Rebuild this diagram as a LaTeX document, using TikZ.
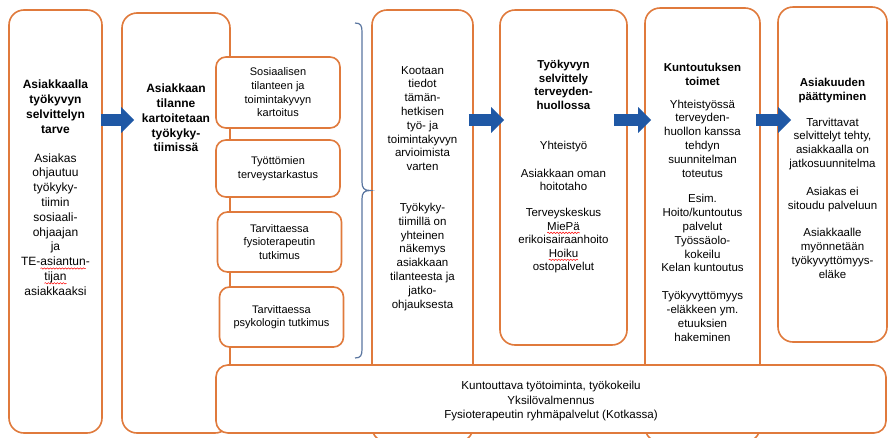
\documentclass[tikz,border=0pt]{standalone}
\usepackage{fontspec}
\setmainfont{Liberation Sans}
\usetikzlibrary{arrows.meta,calc,decorations.pathmorphing}
\definecolor{orj}{HTML}{E07A3C}
\definecolor{arrowblue}{HTML}{1F58A5}
\definecolor{bracegray}{HTML}{5A76A0}
\newsavebox\splbox
\newcommand\spl[1]{\sbox\splbox{#1}\rlap{\tikz[overlay]\draw[red,line width=0.5pt,decorate,decoration={snake,amplitude=0.7pt,segment length=3pt}] (0pt,-2.8pt) -- (\wd\splbox,-2.8pt);}\usebox\splbox}

\begin{document}
\begin{tikzpicture}[x=1pt,y=-1pt,
  col/.style={draw=orj,line width=1.6pt,rounded corners=15pt,fill=white,inner sep=0pt},
  sub/.style={draw=orj,line width=1.6pt,rounded corners=10pt,fill=white,minimum width=124pt,inner sep=0pt,align=center,font=\fontsize{11}{13.7}\selectfont},
  txt/.style={align=center,inner sep=0pt,anchor=north,font=\fontsize{11.5}{13.8}\selectfont},
  blk/.style={arrowblue,line width=12pt,-{Triangle[length=13pt,width=25pt]}}]
  \useasboundingbox (0,0) rectangle (889,437); \clip (0,0) rectangle (889,437);
  \fill[white] (0,0) rectangle (889,437);
  % columns
  \node[col,minimum width=93pt,minimum height=423pt] (b1) at (55.5,221.5) {};
  \node[col,minimum width=108pt,minimum height=420pt] (b2) at (176,223) {};
  \node[col,minimum width=101pt,minimum height=432pt] (b3) at (422.5,226) {};
  \node[col,minimum width=127pt,minimum height=335pt] (b4) at (563.5,177.5) {};
  \node[col,minimum width=115pt,minimum height=434pt] (b5) at (702.5,225) {};
  \node[col,minimum width=109pt,minimum height=335pt] (b6) at (832.5,174.5) {};
  % kartoitukset
  \node[sub,minimum height=71pt] (sA) at (278,92.5) {Sosiaalisen\\tilanteen ja\\toimintakyvyn\\kartoitus};
  \node[sub,minimum height=57pt] (sB) at (278,168.5) {Työttömien\\terveystarkastus};
  \node[sub,minimum height=60pt] (sC) at (279.5,242) {Tarvittaessa\\fysioterapeutin\\tutkimus};
  \node[sub,minimum height=60pt] (sD) at (281.5,317) {Tarvittaessa\\psykologin tutkimus};
  \node[sub,rounded corners=12pt,minimum width=670pt,minimum height=68pt] (bb) at (551,399) {};
  \draw[bracegray,line width=1.2pt] (355,23) .. controls (361,23) and (362,26) .. (362,32) -- (362,182)
    .. controls (362,188) and (364,190.5) .. (370,190.5) .. controls (364,190.5) and (362,193) .. (362,199)
    -- (362,349) .. controls (362,355) and (361,358) .. (355,358);
  % nuolet
  \coordinate (lv) at (0,120);
  \draw[blk] ($(b1.east |- lv)+(-2,0)$) -- ($(b2.west |- lv)+(13,0)$);
  \draw[blk] ($(b3.east |- lv)+(-5,0)$) -- ($(b4.west |- lv)+(5,0)$);
  \draw[blk] ($(b4.east |- lv)+(-14,0)$) -- ($(b5.west |- lv)+(7,0)$);
  \draw[blk] ($(b5.east |- lv)+(-5,0)$) -- ($(b6.west |- lv)+(14,0)$);
  % tekstit
  \node[txt,font=\fontsize{12}{14.8}\selectfont] (t1) at (55.5,80) {\textbf{Asiakkaalla}\\\textbf{työkyvyn}\\\textbf{selvittelyn}\\\textbf{tarve}\\[14pt]
    Asiakas\\ohjautuu\\työkyky-\\tiimin\\sosiaali-\\ohjaajan\\ja\\TE-\spl{asiantun}-\\\spl{tijan}\\asiakkaaksi};
  \node[txt,font=\fontsize{12}{14.75}\selectfont\bfseries] (t2) at (176,84) {Asiakkaan\\tilanne\\kartoitetaan\\työkyky-\\tiimissä};
  \node[txt] (t3) at (422.5,66) {Kootaan\\tiedot\\tämän-\\hetkisen\\työ- ja\\toimintakyvyn\\arvioimista\\varten\\[27pt]
    Työkyky-\\tiimillä on\\yhteinen\\näkemys\\asiakkaan\\tilanteesta ja\\jatko-\\ohjauksesta};
  \node[txt,font=\fontsize{11.5}{13.5}\selectfont] (t4) at (563.5,60) {\textbf{Työkyvyn}\\\textbf{selvittely}\\\textbf{terveyden-}\\\textbf{huollossa}\\[26.5pt]
    Yhteistyö\\[14.5pt] Asiakkaan oman\\hoitotaho\\[12.5pt] Terveyskeskus\\\spl{MiePä}\\erikoisairaanhoito\\\spl{Hoiku}\\ostopalvelut};
  \node[txt] (t5) at (702.5,63) {\textbf{Kuntoutuksen}\\\textbf{toimet}\\[9pt]
    Yhteistyössä\\terveyden-\\huollon kanssa\\tehdyn\\suunnitelman\\toteutus\\[12pt]
    Esim.\\Hoito/kuntoutus\\palvelut\\Työssäolo-\\kokeilu\\Kelan kuntoutus\\[14pt]
    Työkyvyttömyys\\-eläkkeen ym.\\etuuksien\\hakeminen};
  \node[txt] (t6) at (832.5,78) {\textbf{Asiakuuden}\\\textbf{päättyminen}\\[12pt]
    Tarvittavat\\selvittelyt tehty,\\asiakkaalla on\\jatkosuunnitelma\\[14pt]
    Asiakas ei\\sitoudu palveluun\\[14pt]
    Asiakkaalle\\myönnetään\\työkyvyttömyys-\\eläke};
  \node[txt,font=\fontsize{11.6}{14.5}\selectfont] (t7) at (bb.center |- 0,381) {Kuntouttava työtoiminta, työkokeilu\\Yksilövalmennus\\Fysioterapeutin ryhmäpalvelut (Kotkassa)};
\end{tikzpicture}
\end{document}
